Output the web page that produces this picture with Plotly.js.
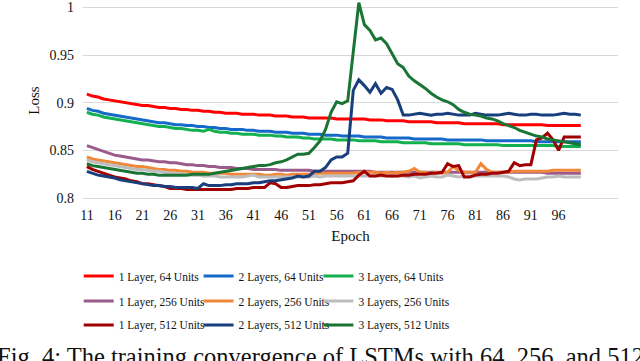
<!DOCTYPE html>
<html>
<head>
<meta charset="utf-8">
<script src="https://cdn.plot.ly/plotly-3.0.1.min.js"></script>
<style>
  html, body { margin: 0; padding: 0; background: #fff; }
  #chart { width: 640px; height: 361px; }
</style>
</head>
<body>
<div id="chart"></div>
<script>
const epochs = [
  11, 12, 13, 14, 15, 16, 17, 18, 19, 20,
  21, 22, 23, 24, 25, 26, 27, 28, 29, 30,
  31, 32, 33, 34, 35, 36, 37, 38, 39, 40,
  41, 42, 43, 44, 45, 46, 47, 48, 49, 50,
  51, 52, 53, 54, 55, 56, 57, 58, 59, 60,
  61, 62, 63, 64, 65, 66, 67, 68, 69, 70,
  71, 72, 73, 74, 75, 76, 77, 78, 79, 80,
  81, 82, 83, 84, 85, 86, 87, 88, 89, 90,
  91, 92, 93, 94, 95, 96, 97, 98, 99, 100,
];
const xTicks = [11, 16, 21, 26, 31, 36, 41, 46, 51, 56, 61, 66, 71, 76, 81, 86, 91, 96];
const yTicks = [0.8, 0.85, 0.9, 0.95, 1];
const yTickText = ['0.8', '0.85', '0.9', '0.95', '1'];

// 1 Layer, 64 Units
const loss1L64 = [
  .909, .907, .906, .904, .903, .902, .901, .900, .899, .898,
  .897, .897, .896, .895, .895, .894, .894, .893, .893, .892,
  .892, .891, .891, .890, .890, .889, .889, .889, .888, .888,
  .888, .887, .887, .887, .886, .886, .886, .885, .885, .885,
  .884, .884, .884, .884, .884, .883, .883, .883, .883, .883,
  .883, .882, .882, .882, .881, .881, .881, .881, .880, .880,
  .880, .880, .880, .879, .879, .879, .879, .879, .878, .878,
  .878, .878, .878, .878, .878, .877, .877, .877, .877, .877,
  .877, .877, .877, .876, .876, .876, .876, .876, .876, .876,
];
// 2 Layers, 64 Units
const loss2L64 = [
  .894, .892, .891, .889, .888, .887, .886, .885, .884, .883,
  .882, .881, .880, .879, .879, .878, .877, .877, .876, .876,
  .875, .875, .874, .874, .873, .873, .872, .872, .872, .871,
  .871, .870, .870, .870, .869, .869, .869, .868, .868, .868,
  .867, .867, .867, .866, .866, .866, .865, .865, .865, .865,
  .864, .864, .864, .864, .863, .863, .863, .863, .863, .862,
  .862, .862, .862, .862, .862, .861, .861, .861, .861, .861,
  .861, .861, .860, .860, .860, .860, .860, .860, .860, .860,
  .860, .859, .859, .859, .859, .859, .859, .859, .859, .859,
];
// 3 Layers, 64 Units
const loss3L64 = [
  .890, .888, .887, .885, .884, .883, .882, .881, .880, .879,
  .878, .877, .876, .875, .875, .874, .873, .873, .872, .871,
  .871, .870, .872, .870, .869, .869, .868, .868, .867, .867,
  .867, .866, .866, .866, .865, .865, .864, .864, .864, .863,
  .863, .862, .862, .862, .862, .861, .861, .861, .861, .860,
  .860, .860, .860, .859, .859, .859, .859, .858, .858, .858,
  .858, .858, .857, .857, .857, .857, .857, .857, .856, .856,
  .856, .856, .856, .856, .856, .855, .855, .855, .855, .855,
  .855, .855, .855, .855, .855, .854, .854, .854, .854, .854,
];
// 1 Layer, 256 Units
const loss1L256 = [
  .855, .853, .851, .849, .847, .845, .844, .843, .842, .841,
  .840, .840, .839, .838, .838, .837, .837, .836, .835, .835,
  .834, .834, .833, .833, .832, .832, .832, .831, .831, .831,
  .830, .830, .830, .830, .830, .829, .829, .829, .829, .829,
  .829, .828, .828, .828, .828, .828, .828, .828, .828, .828,
  .828, .828, .827, .827, .827, .827, .827, .827, .827, .827,
  .827, .827, .827, .827, .827, .827, .827, .827, .827, .827,
  .827, .827, .827, .827, .827, .827, .827, .827, .827, .827,
  .827, .827, .827, .826, .826, .826, .826, .826, .826, .826,
];
// 2 Layers, 256 Units
const loss2L256 = [
  .843, .841, .840, .839, .838, .837, .836, .835, .834, .833,
  .833, .832, .831, .830, .830, .829, .829, .828, .828, .827,
  .827, .827, .826, .826, .826, .826, .825, .825, .825, .825,
  .825, .825, .824, .824, .825, .825, .824, .825, .825, .825,
  .825, .826, .826, .826, .826, .826, .826, .826, .826, .827,
  .827, .827, .827, .826, .827, .826, .827, .827, .828, .831,
  .827, .827, .826, .827, .826, .827, .833, .829, .827, .827,
  .827, .836, .830, .827, .827, .827, .827, .828, .828, .828,
  .828, .828, .828, .828, .829, .829, .829, .829, .829, .829,
];
// 3 Layers, 256 Units
const loss3L256 = [
  .840, .838, .837, .836, .835, .834, .833, .832, .831, .830,
  .830, .829, .828, .828, .827, .826, .826, .825, .825, .824,
  .824, .823, .823, .823, .822, .822, .822, .822, .822, .823,
  .824, .822, .822, .822, .822, .822, .822, .822, .822, .822,
  .822, .823, .822, .823, .823, .823, .823, .823, .823, .823,
  .823, .823, .823, .823, .823, .823, .823, .823, .822, .823,
  .821, .822, .823, .822, .822, .824, .823, .822, .823, .823,
  .823, .823, .823, .823, .823, .823, .822, .820, .819, .820,
  .820, .820, .821, .822, .822, .823, .822, .822, .822, .822,
];
// 1 Layer, 512 Units
const loss1L512 = [
  .833, .830, .828, .826, .824, .822, .821, .820, .818, .817,
  .815, .815, .814, .813, .812, .810, .810, .810, .809, .809,
  .809, .809, .809, .809, .809, .809, .809, .810, .810, .810,
  .811, .811, .811, .816, .815, .811, .811, .812, .813, .813,
  .813, .814, .814, .815, .816, .816, .816, .817, .818, .824,
  .828, .823, .823, .824, .823, .823, .823, .824, .824, .825,
  .825, .825, .826, .826, .827, .836, .833, .834, .822, .822,
  .824, .825, .825, .826, .826, .827, .828, .837, .834, .835,
  .835, .861, .863, .868, .861, .850, .864, .864, .864, .864,
];
// 2 Layers, 512 Units
const loss2L512 = [
  .828, .826, .824, .823, .822, .821, .819, .818, .817, .816,
  .815, .814, .813, .813, .812, .812, .811, .811, .811, .811,
  .810, .815, .813, .813, .813, .814, .814, .815, .815, .815,
  .816, .816, .817, .818, .818, .819, .820, .821, .823, .822,
  .823, .828, .828, .832, .840, .843, .843, .847, .913, .924,
  .918, .911, .920, .910, .916, .914, .903, .887, .887, .888,
  .889, .888, .887, .888, .888, .889, .888, .887, .887, .887,
  .889, .888, .887, .887, .887, .888, .889, .888, .887, .887,
  .888, .888, .887, .887, .887, .888, .889, .888, .888, .887,
];
// 3 Layers, 512 Units
const loss3L512 = [
  .836, .834, .833, .832, .831, .830, .829, .828, .827, .826,
  .826, .825, .825, .824, .824, .824, .824, .824, .824, .825,
  .825, .825, .825, .826, .827, .828, .829, .830, .831, .832,
  .833, .834, .834, .835, .837, .838, .840, .843, .846, .846,
  .847, .853, .860, .872, .890, .901, .899, .902, .955, 1.005,
  .982, .976, .966, .968, .962, .952, .941, .937, .928, .923,
  .919, .915, .910, .906, .903, .901, .898, .893, .890, .888,
  .887, .886, .884, .883, .881, .878, .876, .874, .871, .869,
  .867, .865, .864, .862, .861, .860, .859, .858, .857, .856,
];

const serif = "'Liberation Serif', 'Times New Roman', Times, serif";

// one small legend per entry so the 3x3 grid lines up like the original
const legendCols = [-0.008, 0.216, 0.440];
const legendRows = [-0.382, -0.508, -0.628];

const series = [
  { name: '1 Layer, 64 Units', y: loss1L64, color: '#ff0000' },
  { name: '2 Layers, 64 Units', y: loss2L64, color: '#1469c9' },
  { name: '3 Layers, 64 Units', y: loss3L64, color: '#12b04e' },
  { name: '1 Layer, 256 Units', y: loss1L256, color: '#9a5a8a' },
  { name: '2 Layers, 256 Units', y: loss2L256, color: '#f0883a' },
  { name: '3 Layers, 256 Units', y: loss3L256, color: '#bdbdbd' },
  { name: '1 Layer, 512 Units', y: loss1L512, color: '#a00000' },
  { name: '2 Layers, 512 Units', y: loss2L512, color: '#183f7c' },
  { name: '3 Layers, 512 Units', y: loss3L512, color: '#1a7535' },
];

const legendKey = (i) => (i === 0 ? 'legend' : `legend${i + 1}`);

const traces = series.map((s, i) => ({
  type: 'scatter',
  mode: 'lines',
  name: s.name,
  x: epochs,
  y: s.y,
  legend: legendKey(i),
  line: { color: s.color, width: 3 },
  hoverinfo: 'skip',
}));

const layout = {
  width: 640,
  height: 361,
  margin: { l: 83, r: 22, t: 1, b: 161 },
  paper_bgcolor: '#fff',
  plot_bgcolor: '#fff',
  font: { family: serif, color: '#111', size: 14 },
  showlegend: true,
  xaxis: {
    range: [10.3, 106.7],
    tickmode: 'array',
    tickvals: xTicks,
    ticktext: xTicks.map(String),
    showgrid: false,
    zeroline: false,
    showline: false,
    ticks: '',
    ticklabelstandoff: 5,
    tickfont: { family: serif, size: 14, color: '#111' },
    title: { text: 'Epoch', standoff: 8, font: { family: serif, size: 15, color: '#111' } },
  },
  yaxis: {
    range: [0.7979, 1.0068],
    tickmode: 'array',
    tickvals: yTicks,
    ticktext: yTickText,
    showgrid: true,
    gridcolor: '#d9d9d9',
    gridwidth: 1,
    zeroline: false,
    showline: false,
    ticks: '',
    ticklabelstandoff: 8,
    tickfont: { family: serif, size: 14, color: '#111' },
    title: { text: 'Loss', standoff: 6, font: { family: serif, size: 15, color: '#111' } },
  },
  annotations: [{
    xref: 'paper', yref: 'paper',
    x: -0.164, y: -0.71,
    xanchor: 'left', yanchor: 'top',
    showarrow: false,
    text: 'Fig. 4: The training convergence of LSTMs with 64, 256, and 512 units',
    font: { family: serif, size: 24.5, color: '#111' },
  }],
};

series.forEach((s, i) => {
  layout[legendKey(i)] = {
    orientation: 'h',
    x: legendCols[i % 3],
    xanchor: 'left',
    y: legendRows[Math.floor(i / 3)],
    yanchor: 'middle',
    font: { family: serif, size: 11.5, color: '#111' },
    itemwidth: 30,
    bgcolor: 'rgba(0,0,0,0)',
  };
});

Plotly.newPlot('chart', traces, layout, { displayModeBar: false, staticPlot: true });
</script>
</body>
</html>
